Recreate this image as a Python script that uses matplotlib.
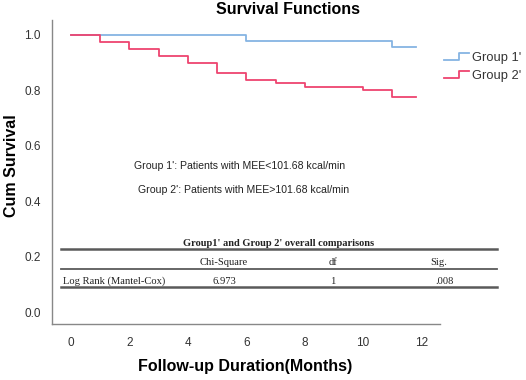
import matplotlib
matplotlib.use("Agg")
import matplotlib.pyplot as plt
from matplotlib.lines import Line2D
from matplotlib.legend_handler import HandlerLine2D

# Data
g1_times = [0, 6, 11, 11.8]
g1_surv = [1.0, 0.977, 0.955, 0.955]
g2_times = [0, 1, 2, 3, 4, 5, 6, 7, 8, 10, 11, 11.8]
g2_surv = [1.0, 0.975, 0.95, 0.925, 0.9, 0.862, 0.838, 0.825, 0.812, 0.8, 0.775, 0.775]
labels = ["Group 1'", "Group 2'"]
colors = ["#86B4E3", "#EE4470"]
x_ticks = [0, 2, 4, 6, 8, 10, 12]
y_ticks = [0.0, 0.2, 0.4, 0.6, 0.8, 1.0]
table_title = "Group1' and Group 2' overall comparisons"
table_header = ["Chi-Square", "df", "Sig."]
table_row = ["Log Rank (Mantel-Cox)", "6.973", "1", ".008"]
note1 = "Group 1': Patients with MEE<101.68 kcal/min"
note2 = "Group 2': Patients with MEE>101.68 kcal/min"

plt.rcParams['font.family'] = ['Liberation Sans', 'DejaVu Sans']

W, H = 526, 380
fig = plt.figure(figsize=(W/100, H/100), dpi=100)
ax = fig.add_axes([52/W, 1-324/H, (440-52)/W, (324-20)/H])

for t, s, c, lab in [(g1_times, g1_surv, colors[0], labels[0]), (g2_times, g2_surv, colors[1], labels[1])]:
    ax.step(t, s, where='post', color=c, lw=1.3, label=lab)

ax.set_xlim(-0.65, 12.63)
ax.set_ylim(-0.043, 1.054)
ax.set_xticks(x_ticks)
ax.set_yticks(y_ticks)
ax.set_yticklabels([f"{v:.1f}" for v in y_ticks])
ax.tick_params(length=0, labelsize=8.5, colors='#333333', pad=8)
ax.tick_params(axis='x', pad=9)
for sp in ['top', 'right']:
    ax.spines[sp].set_visible(False)
for sp in ['left', 'bottom']:
    ax.spines[sp].set_color('#888888')
    ax.spines[sp].set_linewidth(1.0)

fig.text(288/W, 1-10/H, "Survival Functions", ha='center', va='center', fontsize=11.5, fontweight='bold')
fig.text(245/W, 1-367/H, "Follow-up Duration(Months)", ha='center', va='center', fontsize=11.5, fontweight='bold')
fig.text(12/W, 1-166/H, "Cum Survival", ha='center', va='center', rotation=90, fontsize=11.5, fontweight='bold')


class StepHandler(HandlerLine2D):
    def create_artists(self, legend, orig_handle, xdescent, ydescent, width, height, fontsize, trans):
        x0, x1 = -xdescent, -xdescent + width
        xm = x0 + 0.62 * width
        ylo, yhi = -ydescent + 0.15 * height, -ydescent + 0.85 * height
        ln = Line2D([x0, xm, xm, x1], [ylo, ylo, yhi, yhi], color=orig_handle.get_color(),
                    lw=orig_handle.get_linewidth(), transform=trans)
        return [ln]

handles, labs = ax.get_legend_handles_labels()
leg = fig.legend(handles, labs, loc='upper left', bbox_to_anchor=(444/W, 1-52/H), frameon=False,
                 fontsize=9.3, handler_map={Line2D: StepHandler()}, handlelength=1.9,
                 handletextpad=0.25, labelspacing=0.45, borderaxespad=0, borderpad=0)
for t in leg.get_texts():
    t.set_color('#333333')

fig.text(240/W, 1-166/H, note1, ha='center', va='center', fontsize=7.6, color='#222222')
fig.text(244/W, 1-190/H, note2, ha='center', va='center', fontsize=7.6, color='#222222')

# Table
serif = ['Liberation Serif', 'DejaVu Serif']
fs = 7.6
fig.text(279/W, 1-243/H, table_title, ha='center', va='center', fontsize=7.5, fontweight='bold', family=serif, color='#222222')
for y, lw in [(249.3, 1.8), (268.7, 1.3), (287, 1.8)]:
    fig.add_artist(Line2D([61/W, 497/W], [1-y/H, 1-y/H], transform=fig.transFigure, color='#5a5a5a', lw=lw))
for txt, xc in zip(table_header, [224, 333, 439]):
    fig.text(xc/W, 1-262.5/H, txt, ha='center', va='center', fontsize=fs, family=serif, color='#222222')
fig.text(63/W, 1-281/H, table_row[0], ha='left', va='center', fontsize=fs, family=serif, color='#222222')
for txt, xc in zip(table_row[1:], [224, 333, 445]):
    fig.text(xc/W, 1-281/H, txt, ha='center', va='center', fontsize=fs, family=serif, color='#222222')

fig.savefig("out.png", dpi=100)
